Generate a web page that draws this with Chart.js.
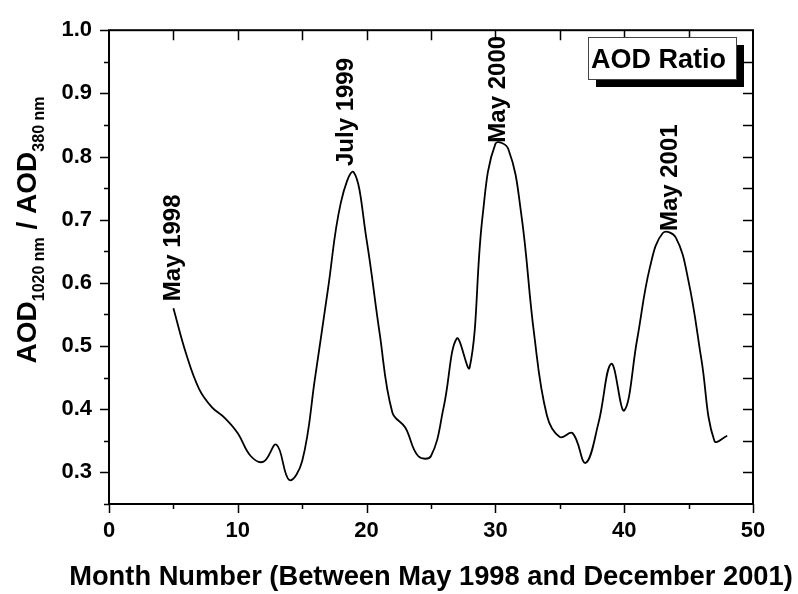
<!DOCTYPE html>
<html>
<head>
<meta charset="utf-8">
<script src="https://cdn.jsdelivr.net/npm/chart.js@4"></script>
<style>
  html, body { margin: 0; padding: 0; background: #fff; }
</style>
</head>
<body>
<canvas id="chart" width="798" height="594"></canvas>
<script>
// monthly AOD ratio
const months = [5, 6, 7, 8, 9, 10, 11, 12, 13, 14, 15, 16, 17, 18, 19, 20, 21, 22, 23, 24,
  25, 26, 27, 28, 29, 30, 31, 32, 33, 34, 35, 36, 37, 38, 39, 40, 41, 42, 43, 44, 45, 46, 47, 48];
const ratio = [0.560, 0.487, 0.432, 0.403, 0.386, 0.362, 0.326, 0.317, 0.344, 0.288,
  0.318, 0.450, 0.590, 0.727, 0.775, 0.668, 0.522, 0.395, 0.371, 0.326,
  0.326, 0.405, 0.512, 0.466, 0.705, 0.820, 0.812, 0.710, 0.520, 0.390,
  0.356, 0.362, 0.315, 0.378, 0.472, 0.398, 0.510, 0.625, 0.679, 0.672,
  0.602, 0.478, 0.350, 0.358];

const xMajor = [0, 10, 20, 30, 40, 50];
const xMinor = [5, 15, 25, 35, 45];
const yMajor = [0.3, 0.4, 0.5, 0.6, 0.7, 0.8, 0.9, 1.0];
const yMinor = [0.25, 0.35, 0.45, 0.55, 0.65, 0.75, 0.85, 0.95];

// peak annotations (label, month, ratio at bottom end of text)
const peakLabels = ['May 1998', 'July 1999', 'May 2000', 'May 2001'];
const peakMonths = [5.0, 18.4, 30.2, 43.6];
const peakValues = [0.571, 0.785, 0.822, 0.682];

const xTitle = 'Month Number (Between May 1998 and December 2001)';
const legendText = 'AOD Ratio';

const FONT = '"Liberation Sans", Arial, sans-serif';

const decorPlugin = {
  id: 'decor',
  afterDraw(chart) {
    const ctx = chart.ctx;
    const a = chart.chartArea;
    const xs = chart.scales.x, ys = chart.scales.y;
    ctx.save();
    ctx.strokeStyle = '#000';
    ctx.fillStyle = '#000';

    // frame
    ctx.lineWidth = 2;
    ctx.strokeRect(a.left, a.top, a.right - a.left, a.bottom - a.top);

    // ticks: bottom/left outward, top/right inward
    ctx.lineWidth = 1.5;
    ctx.beginPath();
    xMajor.concat(xMinor).forEach(v => {
      const px = Math.round(xs.getPixelForValue(v)) + 0.5;
      const len = xMajor.includes(v) ? 9 : 5;
      ctx.moveTo(px, a.bottom); ctx.lineTo(px, a.bottom + len);
      if (v > 0 && v < 50) { ctx.moveTo(px, a.top); ctx.lineTo(px, a.top + 10); }
    });
    yMajor.concat(yMinor).forEach(v => {
      const py = Math.round(ys.getPixelForValue(v)) + 0.5;
      const len = yMajor.includes(v) ? 9 : 5;
      ctx.moveTo(a.left, py); ctx.lineTo(a.left - len, py);
      if (v > 0.25 && v < 1.0) { ctx.moveTo(a.right, py); ctx.lineTo(a.right - 10, py); }
    });
    ctx.stroke();

    // x axis title (drawn here so it is not squeezed to the axis width)
    ctx.font = 'bold 27.3px ' + FONT;
    ctx.textAlign = 'center';
    ctx.textBaseline = 'alphabetic';
    ctx.fillText(xTitle, (a.left + a.right) / 2, 585);

    // y axis title with subscripts
    const parts = [
      ['AOD', false], ['1020 nm', true], [' / AOD', false], ['380 nm', true]
    ];
    const mainF = 'bold 28px ' + FONT, subF = 'bold 16px ' + FONT;
    let total = 0;
    parts.forEach(p => { ctx.font = p[1] ? subF : mainF; total += ctx.measureText(p[0]).width; });
    ctx.translate(36, 230);
    ctx.rotate(-Math.PI / 2);
    ctx.textAlign = 'left';
    let cx = -total / 2;
    parts.forEach(p => {
      ctx.font = p[1] ? subF : mainF;
      ctx.fillText(p[0], cx, p[1] ? 8 : 0);
      cx += ctx.measureText(p[0]).width;
    });
    ctx.setTransform(1, 0, 0, 1, 0, 0);

    // peak labels
    ctx.font = 'bold 24px ' + FONT;
    ctx.textBaseline = 'middle';
    peakLabels.forEach((t, i) => {
      ctx.save();
      ctx.translate(xs.getPixelForValue(peakMonths[i]), ys.getPixelForValue(peakValues[i]));
      ctx.rotate(-Math.PI / 2);
      ctx.fillText(t, 0, 0);
      ctx.restore();
    });

    // legend box with drop shadow
    ctx.fillStyle = '#000';
    ctx.fillRect(596, 45, 148, 42);
    ctx.fillStyle = '#fff';
    ctx.fillRect(588.5, 37.5, 148, 42);
    ctx.strokeStyle = '#444';
    ctx.lineWidth = 1;
    ctx.strokeRect(588.5, 37.5, 148, 42);
    ctx.fillStyle = '#000';
    ctx.font = 'bold 27px ' + FONT;
    ctx.textBaseline = 'alphabetic';
    ctx.textAlign = 'left';
    ctx.fillText(legendText, 591, 68);

    ctx.restore();
  }
};

new Chart(document.getElementById('chart'), {
  type: 'line',
  data: {
    datasets: [{
      label: legendText,
      data: months.map((m, i) => ({ x: m, y: ratio[i] })),
      borderColor: '#000',
      borderWidth: 1.8,
      pointRadius: 0,
      tension: 0.4,
      fill: false
    }]
  },
  options: {
    responsive: false,
    animation: false,
    layout: { padding: { top: 22, right: 45, left: 0, bottom: 0 } },
    plugins: { legend: { display: false }, tooltip: { enabled: false } },
    scales: {
      x: {
        type: 'linear',
        min: 0,
        max: 50,
        afterBuildTicks: s => { s.ticks = xMajor.map(v => ({ value: v })); },
        afterFit: s => { s.height = 90; },
        grid: { display: false, drawTicks: false },
        border: { display: false },
        ticks: {
          color: '#000',
          padding: 14,
          maxRotation: 0,
          font: { family: FONT, size: 22, weight: 'bold' }
        }
      },
      y: {
        min: 0.25,
        max: 1.0,
        afterBuildTicks: s => { s.ticks = yMajor.map(v => ({ value: v })); },
        afterFit: s => { s.width = 109; },
        grid: { display: false, drawTicks: false },
        border: { display: false },
        ticks: {
          color: '#000',
          padding: 17,
          font: { family: FONT, size: 22, weight: 'bold' },
          callback: v => v.toFixed(1)
        }
      }
    }
  },
  plugins: [decorPlugin]
});
</script>
</body>
</html>
